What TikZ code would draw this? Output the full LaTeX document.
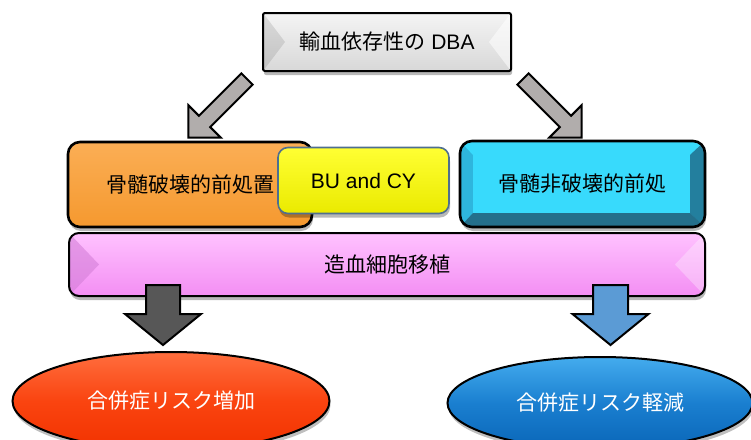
\documentclass[tikz,border=0pt]{standalone}
\usepackage{fontspec}
\setmainfont{Liberation Sans}
\newfontfamily\jp{Noto Sans CJK JP}
\usetikzlibrary{shapes.geometric,shadows,calc}

\definecolor{topT}{HTML}{F4F4F4}
\definecolor{topB}{HTML}{D8D8D8}
\definecolor{arrGray}{HTML}{B1ADAC}
\definecolor{orT}{HTML}{FBAE55}
\definecolor{orB}{HTML}{F5992F}
\definecolor{yelT}{HTML}{FFFF33}
\definecolor{yelB}{HTML}{EAEA00}
\definecolor{yelD}{HTML}{4F6F8F}
\definecolor{cyF}{HTML}{38DAFC}
\definecolor{cyL}{HTML}{2EB6DD}
\definecolor{cyR}{HTML}{237F9E}
\definecolor{cyBt}{HTML}{246F8B}
\definecolor{pkT}{HTML}{FFC2FF}
\definecolor{pkB}{HTML}{F38EF3}
\definecolor{pkD}{HTML}{D47FD8}
\definecolor{darkA}{HTML}{575757}
\definecolor{blueA}{HTML}{5B9BD5}
\definecolor{rdT}{HTML}{FF6E3E}
\definecolor{rdM}{HTML}{FA4410}
\definecolor{rdB}{HTML}{F23200}
\definecolor{blT}{HTML}{44ACEE}
\definecolor{blM}{HTML}{1A7FD0}
\definecolor{blB}{HTML}{0A66B8}

\newcommand\myblockarrow[7]{%
  \draw[blockarrow, fill=#7, shift={(#1)}, rotate=#2]
    (0,-#4) -- (#3-#6,-#4) -- (#3-#6,-#5) -- (#3,0) -- (#3-#6,#5) -- (#3-#6,#4) -- (0,#4) -- cycle;}

\tikzset{
  txt/.style={font=\fontsize{21}{25}\selectfont, inner sep=0pt, align=center},
  boxshadow/.style={drop shadow={shadow xshift=1pt, shadow yshift=-4pt, opacity=0.28, fill=black}},
  blockarrow/.style={draw=black, line width=2pt, line join=miter},
  topbox/.style={txt, rectangle, rounded corners=2pt, draw=black, line width=2pt,
    top color=topT, bottom color=topB, boxshadow,
    minimum width=248pt, minimum height=58pt,
    path picture={
      \fill[sharp corners, black, opacity=0.10] (path picture bounding box.north west) -- ($(path picture bounding box.west)+(22pt,0)$) -- (path picture bounding box.south west) -- cycle;
      \fill[sharp corners, white, opacity=0.55] (path picture bounding box.north east) -- ($(path picture bounding box.east)+(-22pt,0)$) -- (path picture bounding box.south east) -- cycle;
    }},
  orbox/.style={txt, rectangle, rounded corners=12pt, draw=black, line width=2.6pt,
    top color=orT, bottom color=orB, boxshadow,
    minimum width=244pt, minimum height=85pt},
  yelbox/.style={txt, rectangle, rounded corners=10pt, draw=yelD, line width=1.6pt,
    top color=yelT, bottom color=yelB, boxshadow,
    minimum width=171pt, minimum height=66pt,
    font=\fontsize{21}{25}\selectfont},
  cybox/.style={txt, rectangle, rounded corners=12pt, draw=black, line width=2.6pt,
    fill=cyL, boxshadow,
    minimum width=245pt, minimum height=86pt,
    path picture={
      \coordinate (pNW) at (path picture bounding box.north west);
      \coordinate (pNE) at (path picture bounding box.north east);
      \coordinate (pSE) at (path picture bounding box.south east);
      \coordinate (pSW) at (path picture bounding box.south west);
      \coordinate (qNW) at ($(pNW)+(13pt,-14pt)$);
      \coordinate (qNE) at ($(pNE)+(-15pt,-14pt)$);
      \coordinate (qSE) at ($(pSE)+(-15pt,14pt)$);
      \coordinate (qSW) at ($(pSW)+(13pt,14pt)$);
      \fill[sharp corners, cyF] (pNW) -- (pNE) -- (qNE) -- (qNW) -- cycle;
      \fill[sharp corners, cyR] (pNE) -- (pSE) -- (qSE) -- (qNE) -- cycle;
      \fill[sharp corners, cyBt] (pSW) -- (pSE) -- (qSE) -- (qSW) -- cycle;
      \fill[sharp corners, cyF] (qNW) rectangle (qSE);
    }},
  pkbox/.style={txt, rectangle, rounded corners=10pt, draw=black, line width=2pt,
    top color=pkT, bottom color=pkB, boxshadow,
    minimum width=636pt, minimum height=63pt,
    path picture={
      \fill[sharp corners, pkD, opacity=0.6] (path picture bounding box.north west) -- ($(path picture bounding box.west)+(30pt,0)$) -- (path picture bounding box.south west) -- cycle;
      \fill[sharp corners, white, opacity=0.3] (path picture bounding box.north east) -- ($(path picture bounding box.east)+(-30pt,0)$) -- (path picture bounding box.south east) -- cycle;
    }},
  outcome/.style={txt, ellipse, draw=black, line width=2pt, text=white, inner sep=0pt,
    drop shadow={shadow xshift=1pt, shadow yshift=-4pt, opacity=0.25, fill=black}},
}

\begin{document}
\begin{tikzpicture}[x=1pt,y=-1pt]
\useasboundingbox (0,0) rectangle (751,439);

% middle row
\node[pkbox] (pink) at (387,264.5) {\jp 造血細胞移植};
\node[orbox] (orange) at (190,184.5) {\jp 骨髄破壊的前処置};
\node[yelbox] (yellow) at (363.5,180.5) {BU and CY};
\node[cybox] (cyan) at (582.5,184) {\jp 骨髄非破壊的前処};

% top
\node[topbox] (top) at (387,42) {{\jp 輸血依存性の} DBA};

% outcomes
\node[outcome, minimum width=317pt, minimum height=98pt,
      top color=rdT, bottom color=rdB, middle color=rdM] (risk up) at (171,401) {\jp 合併症リスク増加};
\node[outcome, minimum width=305pt, minimum height=92pt,
      top color=blT, bottom color=blB, middle color=blM] (risk down) at (600,403) {\jp 合併症リスク軽減};

% arrows
\coordinate (tailL) at (247,79);
\coordinate (tailR) at (523,79);
\coordinate (tailD) at (163,285);
\coordinate (tailB) at (610.5,285);
\myblockarrow{tailL}{225}{83}{8}{23}{23}{arrGray}
\myblockarrow{tailR}{-45}{83}{8}{23}{23}{arrGray}
\myblockarrow{tailD}{-90}{60}{17}{38}{31}{darkA}
\myblockarrow{tailB}{-90}{60}{17.5}{38}{31}{blueA}
\end{tikzpicture}
\end{document}
